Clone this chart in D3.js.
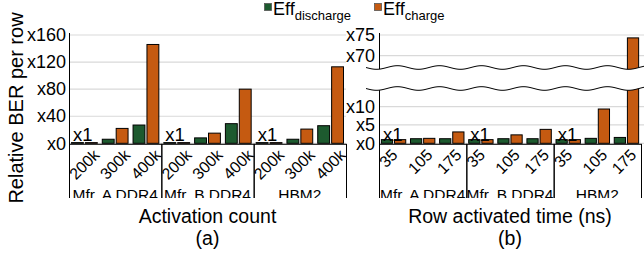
<!DOCTYPE html>
<html>
<head>
<meta charset="utf-8">
<script src="https://cdn.jsdelivr.net/npm/d3@7"></script>
<style>
  body { margin: 0; background: #fff; }
  svg text { font-family: "Liberation Sans", Arial, sans-serif; fill: #000; }
</style>
</head>
<body>
<svg id="chart" width="644" height="253"></svg>
<script>
// -------- DATA --------
const groups = ["Mfr. A DDR4", "Mfr. B DDR4", "HBM2"];
const series = ["discharge", "charge"];

// (a) activation count
const hcCats = ["200k", "300k", "400k"];
const hcDischarge = [[1, 6, 27], [1, 8, 29], [1, 6, 26]];
const hcCharge = [[1, 22, 146], [1, 15, 80], [1, 21, 113]];
const hcTicks = [0, 40, 80, 120, 160];

// (b) row activated time
const taCats = ["35", "105", "175"];
const taDischarge = [[1, 1.25, 1.25], [1, 1.25, 1.25], [1, 1.35, 1.6]];
const taCharge = [[1, 1.35, 3.1], [1, 2.3, 3.8], [1, 9.35, 74.3]];
const taTicksLow = [0, 5, 10];
const taTicksHigh = [70, 75];

const colors = { discharge: "#1d5a2f", charge: "#c55a11" };

// -------- SETUP --------
const svg = d3.select("#chart");
const axisY0 = 143.3;
const boxBottom = 198;

svg.append("defs").append("clipPath")
  .attr("id", "bottom-clip")
  .append("rect")
  .attr("x", 0).attr("y", 0).attr("width", 644).attr("height", boxBottom);

function rows(dis, chg) {
  const out = [];
  groups.forEach((g, gi) => {
    dis[gi].forEach((v, ci) => {
      out.push({ g: gi, c: ci, s: "discharge", v: v });
      out.push({ g: gi, c: ci, s: "charge", v: chg[gi][ci] });
    });
  });
  return out;
}

// generic grouped panel: band scales for group -> category -> series
function drawPanel(opts) {
  const { x0, x1, cats, data, yBar, xTitle, sub } = opts;
  const gx = d3.scaleBand().domain(d3.range(groups.length)).range([x0, x1]);
  const cx = d3.scaleBand().domain(d3.range(cats.length)).range([0, gx.bandwidth()]);
  const sx = d3.scaleBand().domain(series).range([0, cx.bandwidth()])
    .paddingInner(0.146).paddingOuter(0.18);

  const g = svg.append("g");

  // bars
  g.append("g").selectAll("rect")
    .data(data)
    .join("rect")
    .attr("x", d => gx(d.g) + cx(d.c) + sx(d.s))
    .attr("width", sx.bandwidth())
    .attr("y", d => yBar(d.v))
    .attr("height", d => Math.max(0.6, axisY0 - yBar(d.v)))
    .attr("fill", d => colors[d.s])
    .attr("stroke", "#000")
    .attr("stroke-width", 1);

  // "x1" baseline labels
  g.append("g").selectAll("text")
    .data(d3.range(groups.length))
    .join("text")
    .attr("x", d => gx(d) + 4)
    .attr("y", axisY0 - 2.5)
    .attr("font-size", 18.5)
    .text("x1");

  // group boxes + labels (clipped at the bottom like the reference)
  const bx = g.append("g").attr("clip-path", "url(#bottom-clip)");
  bx.selectAll("rect")
    .data(d3.range(groups.length))
    .join("rect")
    .attr("x", d => gx(d) + 0.5)
    .attr("y", axisY0 + 1)
    .attr("width", gx.bandwidth())
    .attr("height", 80)
    .attr("fill", "none")
    .attr("stroke", "#000")
    .attr("stroke-width", 1);
  bx.selectAll("text.grp")
    .data(groups)
    .join("text")
    .attr("class", "grp")
    .attr("x", (d, i) => gx(i) + gx.bandwidth() / 2)
    .attr("y", 199.5)
    .attr("text-anchor", "middle")
    .attr("font-size", 15.5)
    .text(d => d);

  // rotated category ticks (top-aligned, shifted by label length)
  const ticks = [];
  groups.forEach((gr, gi) => cats.forEach((c, ci) => ticks.push({ gi, ci, c })));
  g.append("g").selectAll("text")
    .data(ticks)
    .join("text")
    .attr("text-anchor", "end")
    .attr("font-size", 16)
    .text(d => d.c)
    .attr("transform", function(d) {
      const w = this.getComputedTextLength();
      const tx = gx(d.gi) + cx(d.ci) + cx.bandwidth() / 2 - 6.5 + 0.65 * w;
      return `translate(${tx},156) rotate(-45)`;
    });

  // titles
  svg.append("text")
    .attr("x", (x0 + x1) / 2)
    .attr("y", 223)
    .attr("text-anchor", "middle")
    .attr("font-size", 19.5)
    .text(xTitle);
  svg.append("text")
    .attr("x", (x0 + x1) / 2)
    .attr("y", 244.5)
    .attr("text-anchor", "middle")
    .attr("font-size", 19.5)
    .text(sub);
}

function grid(scale, ticks, x0, x1) {
  svg.append("g").selectAll("line")
    .data(ticks)
    .join("line")
    .attr("x1", x0).attr("x2", x1)
    .attr("y1", d => scale(d)).attr("y2", d => scale(d))
    .attr("stroke", "#d9d9d9")
    .attr("stroke-width", 1.2);
}

function yAxis(scale, ticks, x, pad) {
  const ax = d3.axisLeft(scale)
    .tickValues(ticks)
    .tickSize(0)
    .tickPadding(pad)
    .tickFormat(d => "x" + d);
  const g = svg.append("g").attr("transform", `translate(${x},0)`).call(ax);
  g.select(".domain").remove();
  g.selectAll("text")
    .attr("font-size", 18)
    .attr("font-family", "Liberation Sans, Arial, sans-serif")
    .attr("fill", "#000");
}

// -------- PANEL (a) --------
const ax0 = 69, ax1 = 346;
const yA = d3.scaleLinear().domain([0, 160]).range([axisY0, 35]);
grid(yA, hcTicks, ax0, ax1);
drawPanel({
  x0: ax0, x1: ax1, cats: hcCats, data: rows(hcDischarge, hcCharge),
  yBar: yA, xTitle: "Activation count", sub: "(a)"
});
svg.append("line")
  .attr("x1", ax0 + 0.5).attr("x2", ax0 + 0.5)
  .attr("y1", 33).attr("y2", boxBottom)
  .attr("stroke", "#000").attr("stroke-width", 1);
yAxis(yA, hcTicks, ax0 - 1, 2);

// -------- PANEL (b) with broken axis --------
const bx0 = 379, bx1 = 641;
const yLow = d3.scaleLinear().domain([0, 15]).range([axisY0, 88.3]);
const yHigh = d3.scaleLinear().domain([67, 75]).range([68, 35]);
const yB = v => (v <= 15 ? yLow(v) : yHigh(v));
grid(yLow, taTicksLow, bx0, 644);
grid(yHigh, taTicksHigh, bx0, 644);
drawPanel({
  x0: bx0, x1: bx1, cats: taCats, data: rows(taDischarge, taCharge),
  yBar: yB, xTitle: "Row activated time (ns)", sub: "(b)"
});
svg.append("line")
  .attr("x1", bx0 + 0.5).attr("x2", bx0 + 0.5)
  .attr("y1", 33).attr("y2", boxBottom)
  .attr("stroke", "#000").attr("stroke-width", 1);
yAxis(yLow, taTicksLow, bx0 - 1, 3);
yAxis(yHigh, taTicksHigh, bx0 - 1, 3);

// break marks: white band between two wavy lines
const waveTop = 67.5, waveBot = 88.5, waveAmp = 1.8, wavePeriod = 42;
const wx = d3.range(366, 645, 1);
const wy = (x, base) => base + waveAmp * Math.sin((x - 366) / wavePeriod * 2 * Math.PI);
const band = wx.map(x => [x, wy(x, waveTop)])
  .concat(wx.slice().reverse().map(x => [x, wy(x, waveBot)]));
svg.append("path")
  .attr("d", d3.line()(band) + "Z")
  .attr("fill", "#fff");
[waveTop, waveBot].forEach(b => {
  svg.append("path")
    .attr("d", d3.line()(wx.map(x => [x, wy(x, b)])))
    .attr("fill", "none")
    .attr("stroke", "#000")
    .attr("stroke-width", 1);
});

// -------- Y TITLE --------
svg.append("text")
  .attr("transform", "translate(23,108) rotate(-90)")
  .attr("text-anchor", "middle")
  .attr("font-size", 20)
  .text("Relative BER per row");

// -------- LEGEND --------
const legend = [
  { s: "discharge", x: 264 },
  { s: "charge", x: 374 }
];
legend.forEach(l => {
  svg.append("rect")
    .attr("x", l.x + 0.5).attr("y", 3.5)
    .attr("width", 7).attr("height", 7)
    .attr("fill", colors[l.s])
    .attr("stroke", "#555").attr("stroke-width", 0.8);
  const t = svg.append("text")
    .attr("x", l.x + 9)
    .attr("y", 15)
    .attr("font-size", 18);
  t.append("tspan").text("Eff");
  t.append("tspan")
    .attr("font-size", 13)
    .attr("dy", 5)
    .text(l.s);
});
</script>
</body>
</html>
